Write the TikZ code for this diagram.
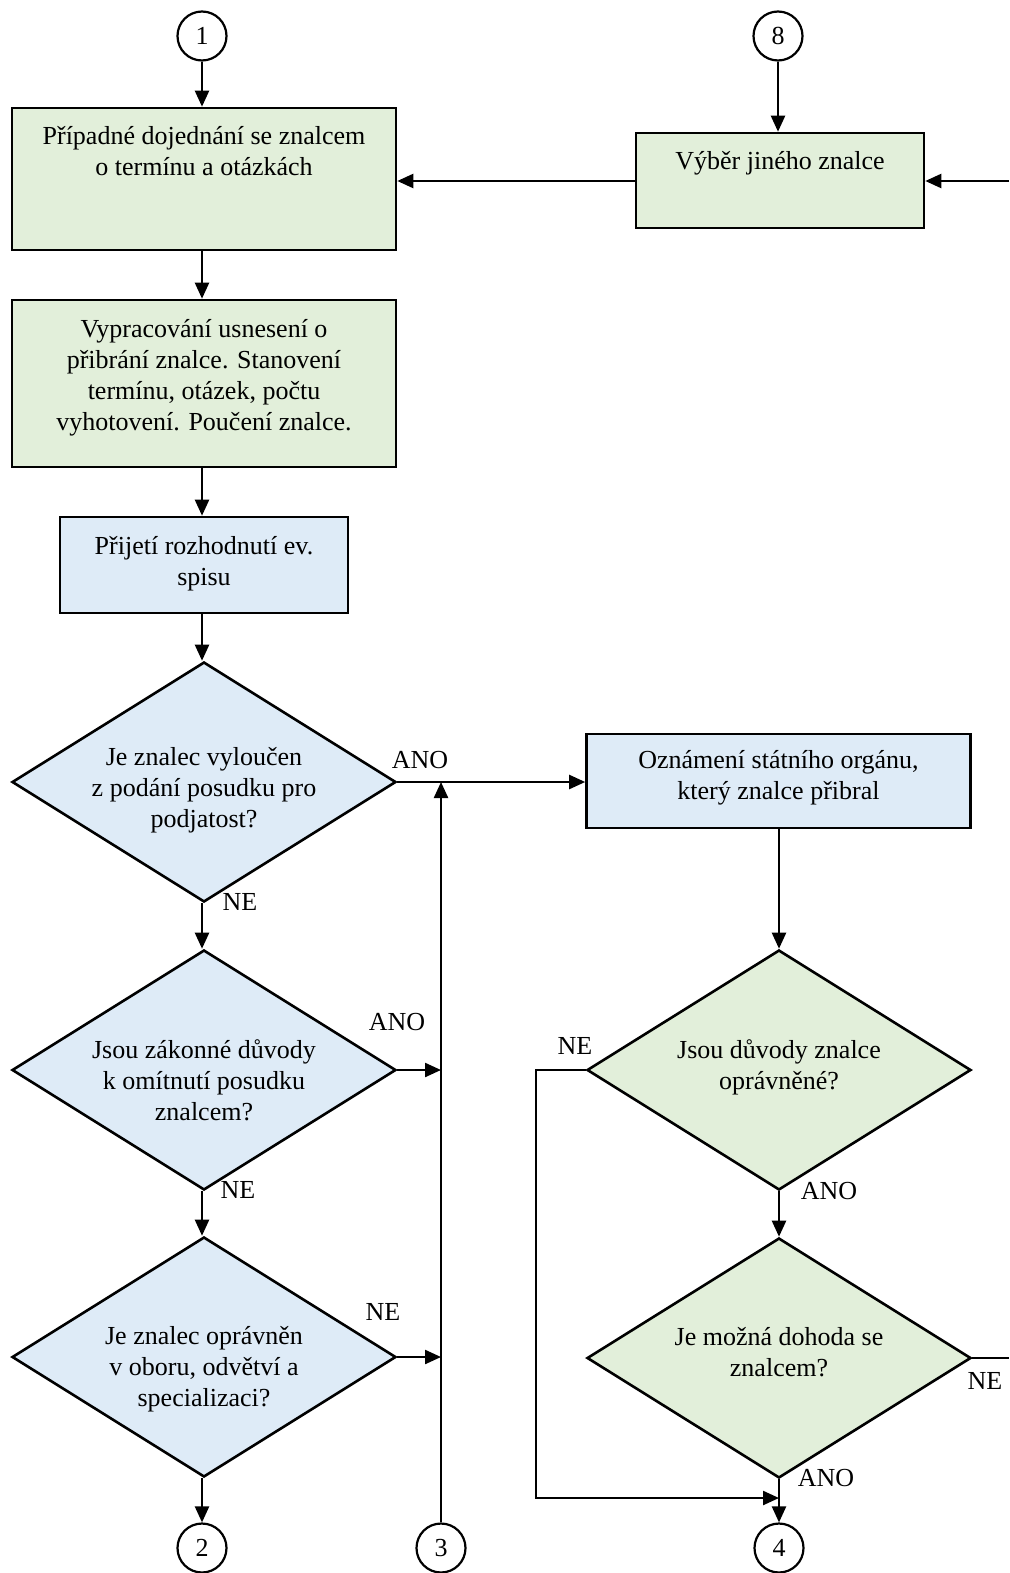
\documentclass[tikz,border=0pt]{standalone}
\usepackage{fontspec}
\setmainfont{Liberation Serif}
\usetikzlibrary{shapes.geometric,arrows.meta}
\definecolor{boxgreen}{RGB}{226,239,218}
\definecolor{boxblue}{RGB}{222,235,247}
\begin{document}
\begin{tikzpicture}[x=1pt,y=-1pt,
  font=\fontsize{26}{31}\selectfont,
  procbox/.style={draw, line width=2.6pt, inner sep=0pt},
  decision/.style={diamond, draw, line width=2.6pt, aspect=1.6, inner sep=0pt,
    minimum width=384pt, minimum height=240pt},
  txt/.style={inner sep=0pt, align=center},
  connector/.style={circle, draw, line width=2.2pt, minimum size=49pt, inner sep=0pt},
  arr/.style={line width=2.3pt, -{Triangle[length=16pt,width=14pt]}},
  wire/.style={line width=2.3pt},
  lbl/.style={inner sep=0pt}]
\useasboundingbox (0,0) rectangle (1009,1573);

% off-page connectors
\node[connector] (c1) at (202,36) {1};
\node[connector] (c8) at (778,36) {8};
\node[connector] (c2) at (202,1548) {2};
\node[connector] (c3) at (441,1548) {3};
\node[connector] (c4) at (779,1548) {4};

% process boxes
\node[procbox, fill=boxgreen, minimum width=384pt, minimum height=142pt] (B1) at (204,179) {};
\node[txt] (B1t) at (204,151) {Případné dojednání se znalcem\\o termínu a otázkách};
\node[procbox, fill=boxgreen, minimum width=288pt, minimum height=95pt] (V) at (780,180.5) {};
\node[txt] (Vt) at (780,163) {Výběr jiného znalce};
\node[procbox, fill=boxgreen, minimum width=384pt, minimum height=167pt] (B2) at (204,383.5) {};
\node[txt] (B2t) at (204,377.5)
  {Vypracování usnesení o\\přibrání znalce. Stanovení\\termínu, otázek, počtu\\vyhotovení. Poučení znalce.};
\node[procbox, fill=boxblue, minimum width=288pt, minimum height=96pt] (B3) at (204,565) {};
\node[txt] (B3t) at (204,564) {Přijetí rozhodnutí ev.\\spisu};
\node[procbox, fill=boxblue, minimum width=384pt, minimum height=94pt] (Oz) at (778.5,781) {};
\node[txt] (Ozt) at (778.5,778) {Oznámení státního orgánu,\\který znalce přibral};

% decisions
\node[decision, fill=boxblue] (D1) at (204,782) {};
\node[txt] (D1t) at (204,790) {Je znalec vyloučen\\z podání posudku pro\\podjatost?};
\node[decision, fill=boxblue] (D2) at (204,1070) {};
\node[txt] (D2t) at (204,1080) {Jsou zákonné důvody\\k omítnutí posudku\\znalcem?};
\node[decision, fill=boxblue] (D3) at (204,1357) {};
\node[txt] (D3t) at (204,1369) {Je znalec oprávněn\\v oboru, odvětví a\\specializaci?};
\node[decision, fill=boxgreen] (D4) at (779,1070) {};
\node[txt] (D4t) at (779,1067) {Jsou důvody znalce\\oprávněné?};
\node[decision, fill=boxgreen] (D5) at (779,1358) {};
\node[txt] (D5t) at (779,1352) {Je možná dohoda se\\znalcem?};

% free ends at the page edge and junctions
\coordinate (inV) at (1009,181);
\coordinate (outR) at (1009,1358);
\coordinate (meet) at (779,1498);

% top part
\draw[arr] (c1.south) -- (c1.south |- B1.north);
\draw[arr] (c8.south) -- (c8.south |- V.north);
\draw[arr] (inV) -- (inV -| V.east);
\draw[arr] (V.west |- inV) -- (inV -| B1.east);
\draw[arr] (B1.south -| c1) -- (B2.north -| c1);
\draw[arr] (B2.south -| c1) -- (B3.north -| c1);
\draw[arr] (B3.south -| c1) -- (D1.north -| c1);

% left column
\draw[arr] (D1.east) -- (D1.east -| Oz.west);
\draw[arr] (D1.south -| c1) -- (D2.north -| c1);
\draw[arr] (D2.south -| c1) -- (D3.north -| c1);
\draw[arr] (D3.south -| c1) -- (c2.north);
\draw[arr] (D2.east) -- (D2.east -| c3);
\draw[arr] (D3.east) -- (D3.east -| c3);
\draw[arr] (c3.north) -- (c3.north |- D1.east);

% right column
\draw[arr] (Oz.south -| D4) -- (D4.north);
\draw[arr] (D4.south) -- (D5.north);
\draw[arr] (D5.south) -- (c4.north);
\draw[arr] (D4.west) -- ++(-50,0) |- (meet);
\draw[wire] (D5.east) -- (outR);

% branch labels
\node[lbl] (l1) at (420,760) {ANO};
\node[lbl] (l2) at (240,902) {NE};
\node[lbl] (l3) at (397,1022) {ANO};
\node[lbl] (l4) at (238,1190) {NE};
\node[lbl] (l5) at (383,1312) {NE};
\node[lbl] (l6) at (575,1046) {NE};
\node[lbl] (l7) at (829,1191) {ANO};
\node[lbl] (l8) at (826,1478) {ANO};
\node[lbl] (l9) at (985,1381) {NE};
\end{tikzpicture}
\end{document}
